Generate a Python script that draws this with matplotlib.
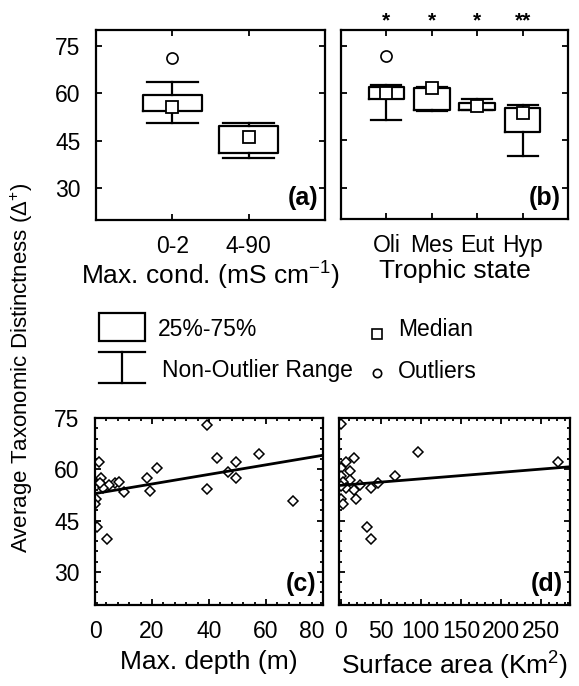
import numpy as np
import matplotlib.pyplot as plt
from matplotlib.patches import Rectangle
from matplotlib.ticker import MultipleLocator
from matplotlib.transforms import ScaledTranslation

plt.rcParams['font.family'] = ['Liberation Sans', 'DejaVu Sans']
plt.rcParams['mathtext.fontset'] = 'custom'
plt.rcParams['mathtext.rm'] = 'Liberation Sans'
plt.rcParams['mathtext.it'] = 'Liberation Sans:italic'
plt.rcParams['mathtext.bf'] = 'Liberation Sans:bold'

# ── data: (a) max conductivity boxes ──
cond_labels = ['0-2', '4-90']
cond_q1 = [54.4, 41.3]
cond_q3 = [59.4, 49.7]
cond_med = [55.6, 46.3]
cond_lo = [50.7, 39.6]
cond_hi = [63.5, 50.7]
cond_out = [[71.3], []]

# ── data: (b) trophic state boxes ──
troph_labels = ['Oli', 'Mes', 'Eut', 'Hyp']
troph_q1 = [58.0, 54.7, 54.7, 47.6]
troph_q3 = [62.0, 61.5, 56.8, 55.2]
troph_med = [59.9, 61.5, 56.0, 53.7]
troph_lo = [51.3, 54.4, 54.5, 40.1]
troph_hi = [62.6, 61.8, 58.0, 56.3]
troph_out = [[71.7], [], [], []]
troph_sig = ['*', '*', '*', '**']

# ── data: (c) max depth scatter ──
depth_x = [39.2, 1.5, 42.7, 57.7, 49.6, 21.9, 18.4, 49.6, 46.7, 2.1, 2.6,
           7.0, 8.3, 5.0, 2.7, 10.2, 19.3, 39.2, 0.4, 0.0, 69.6, 0.8, 4.1, 1.8]
depth_y = [72.9, 62.0, 63.4, 64.4, 62.1, 60.5, 57.5, 57.5, 59.3, 57.5, 55.3,
           55.9, 56.4, 55.3, 54.4, 53.5, 53.6, 54.3, 51.2, 49.8, 50.8, 43.0, 39.5, 56.0]
depth_fit = (52.9, 0.14)   # intercept, slope

# ── data: (d) surface area scatter ──
area_x = [0.8, 96.7, 270.8, 16.3, 7.1, 0.0, 11.3, 0.0, 12.1, 67.5, 2.9,
          23.8, 46.7, 7.1, 16.3, 37.5, 18.8, 0.0, 2.9, 33.3, 37.5, 1.0]
area_y = [73.2, 65.0, 62.2, 63.2, 62.2, 60.5, 59.6, 57.9, 56.9, 57.9, 56.4,
          55.4, 55.9, 54.5, 54.0, 54.5, 51.3, 51.3, 49.8, 43.0, 39.6, 55.0]
area_fit = (55.3, 0.019)

W, H = 579, 686
fig = plt.figure(figsize=(W / 100, H / 100), dpi=100)


def px_axes(x0, y0, x1, y1):
    return fig.add_axes([x0 / W, 1 - y1 / H, (x1 - x0) / W, (y1 - y0) / H])


def style(ax):
    for s in ax.spines.values():
        s.set_linewidth(1.6)
    ax.tick_params(which='both', direction='in', top=True, right=True,
                   labelsize=16.5, pad=11, width=1.3)
    ax.tick_params(which='major', length=4)
    ax.tick_params(which='minor', length=2)


def boxes(ax, q1, q3, med, lo, hi, out, width):
    stats = [dict(q1=a, q3=b, med=m, whislo=l, whishi=h, fliers=f)
             for a, b, m, l, h, f in zip(q1, q3, med, lo, hi, out)]
    pos = np.arange(1, len(stats) + 1)
    ax.bxp(stats, positions=pos, widths=width, capwidths=width * 0.85,
           boxprops=dict(lw=1.6), whiskerprops=dict(lw=1.6),
           capprops=dict(lw=1.6), medianprops=dict(lw=0),
           flierprops=dict(marker='o', mfc='white', mec='black', ms=8, mew=1.2),
           manage_ticks=False)
    ax.plot(pos, med, 's', mfc='white', mec='black', ms=8, mew=1.3, zorder=5)
    return pos


# (a)
ax_a = px_axes(96, 30, 325, 220)
pos = boxes(ax_a, cond_q1, cond_q3, cond_med, cond_lo, cond_hi, cond_out, 0.78)
ax_a.set_xlim(0, 3)
ax_a.set_ylim(20, 80)
ax_a.set_xticks(pos, cond_labels)
ax_a.set_yticks([30, 45, 60, 75])
ax_a.set_xlabel('Max. cond. (mS cm$^{-1}$)', fontsize=19, labelpad=1)
style(ax_a)
ax_a.text(0.97, 0.05, '(a)', transform=ax_a.transAxes, ha='right', va='bottom',
          fontsize=18, fontweight='bold')

# (b)
ax_b = px_axes(341, 30, 568, 219)
pos = boxes(ax_b, troph_q1, troph_q3, troph_med, troph_lo, troph_hi, troph_out, 0.78)
ax_b.set_xlim(0, 5)
ax_b.set_ylim(20, 80)
ax_b.set_xticks(pos, troph_labels)
ax_b.set_yticks([30, 45, 60, 75])
ax_b.set_yticklabels([])
ax_b.set_xlabel('Trophic state', fontsize=19, labelpad=1)
style(ax_b)
for p, s in zip(pos, troph_sig):
    ax_b.text(p, 1.0, s, transform=ax_b.get_xaxis_transform(), ha='center',
              va='bottom', fontsize=15, fontweight='bold')
ax_b.text(0.97, 0.05, '(b)', transform=ax_b.transAxes, ha='right', va='bottom',
          fontsize=18, fontweight='bold')

# (c)
ax_c = px_axes(95, 418, 323, 605)
ax_c.plot(depth_x, depth_y, 'D', mfc='white', mec='black', ms=5.5, mew=1.1, ls='none')
xs = np.array([0, 80])
ax_c.plot(xs, depth_fit[0] + depth_fit[1] * xs, color='black', lw=2)
ax_c.set_xlim(0, 80)
ax_c.set_ylim(20.3, 75)
ax_c.set_xticks([0, 20, 40, 60, 80])
ax_c.set_yticks([30, 45, 60, 75])
ax_c.xaxis.set_minor_locator(MultipleLocator(4))
ax_c.yaxis.set_minor_locator(MultipleLocator(3))
ax_c.set_xlabel('Max. depth (m)', fontsize=19, labelpad=5)
style(ax_c)
# last label "80" sits left of its tick in the original
last = ax_c.get_xticklabels()[-1]
last.set_transform(last.get_transform() + ScaledTranslation(-0.11, 0, fig.dpi_scale_trans))
ax_c.text(0.97, 0.05, '(c)', transform=ax_c.transAxes, ha='right', va='bottom',
          fontsize=18, fontweight='bold')

# (d)
ax_d = px_axes(339, 418, 570, 605)
ax_d.plot(area_x, area_y, 'D', mfc='white', mec='black', ms=5.5, mew=1.1, ls='none')
xs = np.array([0, 286])
ax_d.plot(xs, area_fit[0] + area_fit[1] * xs, color='black', lw=2)
ax_d.set_xlim(-2, 286)
ax_d.set_ylim(20.3, 75)
ax_d.set_xticks([0, 50, 100, 150, 200, 250])
ax_d.set_yticks([30, 45, 60, 75])
ax_d.set_yticklabels([])
ax_d.xaxis.set_minor_locator(MultipleLocator(10))
ax_d.yaxis.set_minor_locator(MultipleLocator(3))
ax_d.set_xlabel('Surface area (Km$^{2}$)', fontsize=19, labelpad=5)
style(ax_d)
ax_d.text(0.97, 0.05, '(d)', transform=ax_d.transAxes, ha='right', va='bottom',
          fontsize=18, fontweight='bold')

# shared y label
fig.text(22 / W, 1 - 368 / H, 'Average Taxonomic Distinctness (\u0394$^{+}$)',
         rotation=90, ha='center', va='center', fontsize=16)

# legend drawn in pixel units
leg = fig.add_axes([0, 0, 1, 1], zorder=-1)
leg.set_xlim(0, W)
leg.set_ylim(H, 0)
leg.axis('off')
leg.add_patch(Rectangle((99, 313), 46, 28, fill=False, lw=1.6, ec='black'))
leg.plot([99, 145], [352, 352], color='black', lw=1.6)
leg.plot([99, 145], [383, 383], color='black', lw=1.6)
leg.plot([122, 122], [352, 383], color='black', lw=1.6)
leg.plot([377], [334], 's', mfc='white', mec='black', ms=7, mew=1.2)
leg.plot([377], [373], 'o', mfc='white', mec='black', ms=6, mew=1.2)
leg.text(158, 330, '25%-75%', fontsize=16.5, va='center')
leg.text(162, 371, 'Non-Outlier Range', fontsize=16.5, va='center')
leg.text(398, 330, 'Median', fontsize=16.5, va='center')
leg.text(398, 371, 'Outliers', fontsize=16.5, va='center')

fig.savefig('out.png', dpi=100)
